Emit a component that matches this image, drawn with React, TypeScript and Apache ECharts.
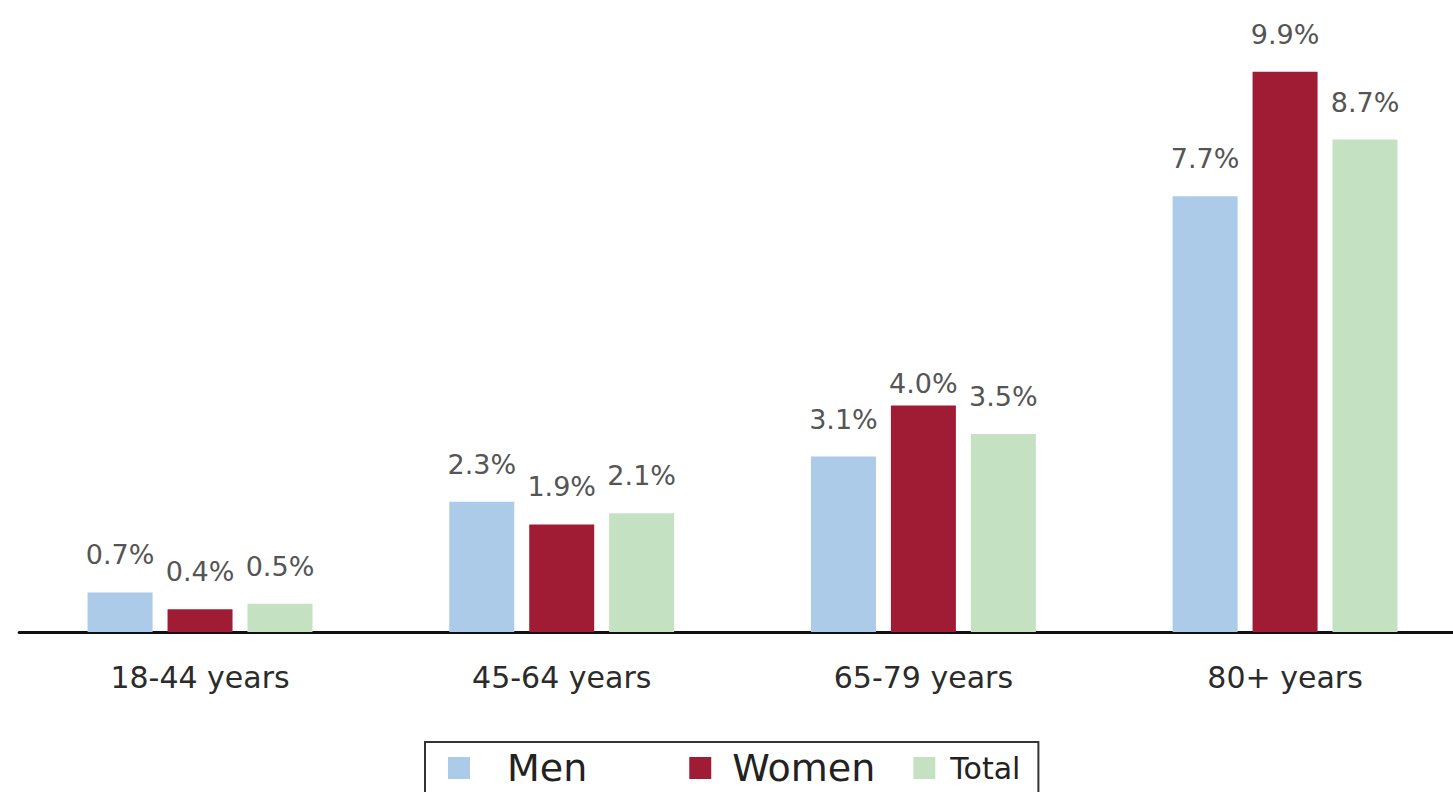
import React, { useEffect, useRef } from 'react';
import * as echarts from 'echarts';

const categories = ['18-44 years', '45-64 years', '65-79 years', '80+ years'];
const seriesNames = ['Men', 'Women', 'Total'];
const men = [0.7, 2.3, 3.1, 7.7];
const women = [0.4, 1.9, 4.0, 9.9];
const total = [0.5, 2.1, 3.5, 8.7];

const colors = ['#abcbe8', '#a01c35', '#c4e2c2'];
const FONT = 'DejaVu Sans';

export default function App() {
  const ref = useRef<HTMLDivElement>(null);
  useEffect(() => {
    const chart = echarts.init(ref.current as HTMLDivElement, null, { renderer: 'svg' });
    const baseLabel = {
      show: true,
      position: 'top',
      distance: 24,
      fontSize: 27,
      fontFamily: FONT,
      color: '#555',
      formatter: (p: any) => Number(p.value).toFixed(1) + '%',
    };
    const mk = (name: string, values: number[], idx: number) => ({
      name,
      type: 'bar',
      barWidth: 65,
      barGap: '23%',
      itemStyle: { color: colors[idx] },
      label: baseLabel,
      data: values.map((v, i) =>
        name === 'Women' && i === 2 ? { value: v, label: { distance: 9 } } : v
      ),
    });
    const spacer = (w: number) => ({ width: w, backgroundColor: '#ffffff', fontSize: 10 });
    chart.setOption({
      animation: false,
      backgroundColor: '#ffffff',
      grid: {
        left: 19.2,
        right: 1.1,
        top: 9.4,
        bottom: 160,
        containLabel: false,
        outerBoundsMode: 'none',
      },
      xAxis: {
        type: 'category',
        data: categories,
        axisLine: { show: true, lineStyle: { color: '#111', width: 3 } },
        axisTick: { show: false },
        axisLabel: { fontSize: 30, fontFamily: FONT, color: '#2b2b2b', margin: 30 },
      },
      yAxis: {
        type: 'value',
        min: 0,
        max: 11,
        show: false,
        splitLine: { show: false },
      },
      legend: {
        left: 425,
        top: 742,
        orient: 'horizontal',
        icon: 'rect',
        itemWidth: 22,
        itemHeight: 22,
        itemGap: 20,
        borderColor: '#333',
        borderWidth: 2,
        borderRadius: 0,
        padding: [7, 18, 14, 23],
        selectedMode: false,
        formatter: (name: string) => {
          if (name === seriesNames[0]) return '{l0| }{big|' + name + '}{r0| }';
          if (name === seriesNames[1]) return '{l1| }{big|' + name + '}{r1| }';
          return '{l2| }{small|' + name + '}';
        },
        textStyle: {
          color: '#222',
          fontFamily: FONT,
          rich: {
            big: { fontSize: 38, fontFamily: FONT, color: '#222' },
            small: { fontSize: 30, fontFamily: FONT, color: '#222' },
            l0: spacer(32),
            r0: spacer(82),
            l1: spacer(16),
            r1: spacer(18),
            l2: spacer(10),
          },
        },
        data: seriesNames,
      },
      series: [
        mk(seriesNames[0], men, 0),
        mk(seriesNames[1], women, 1),
        mk(seriesNames[2], total, 2),
      ],
    });
    return () => chart.dispose();
  }, []);
  return (
    <div
      style={{
        position: 'fixed',
        left: 0,
        top: 0,
        width: 1453,
        height: 792,
        overflow: 'hidden',
        background: '#fff',
      }}
    >
      <div ref={ref} style={{ width: 1467, height: 792 }} />
    </div>
  );
}
